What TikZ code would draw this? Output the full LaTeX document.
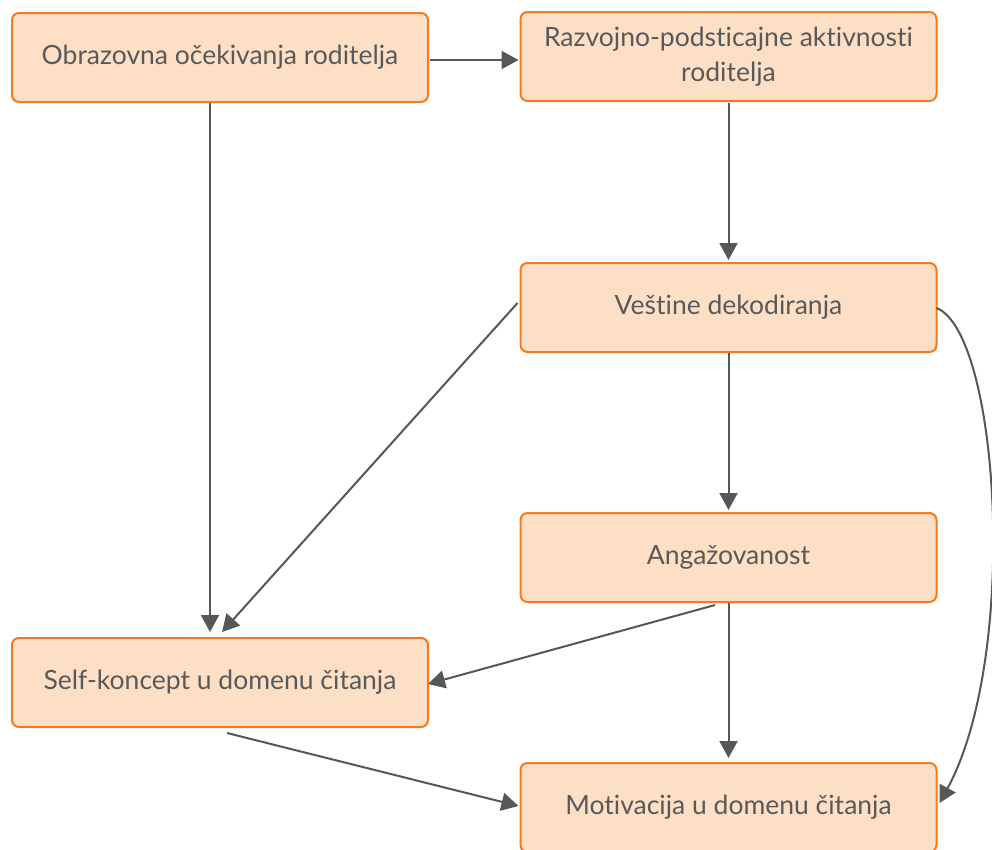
\documentclass[tikz,border=0pt]{standalone}
\usepackage{fontspec}
\setmainfont{Lato}[Ligatures={NoCommon}]
\usetikzlibrary{arrows.meta,calc}
\definecolor{boxfill}{HTML}{FDDFC6}
\definecolor{boxline}{HTML}{F47B20}
\definecolor{arrcol}{HTML}{555759}
\definecolor{txtcol}{HTML}{58595B}
\tikzset{
  box/.style={draw=boxline, fill=boxfill, line width=2pt, rounded corners=7pt,
    minimum width=416pt, minimum height=89pt, inner sep=0pt, outer sep=0pt,
    align=center, text=txtcol, font=\fontsize{26.5}{35}\selectfont},
  arr/.style={draw=arrcol, line width=2pt, -{Triangle[length=17pt,width=18pt]}}
}
\begin{document}
\begin{tikzpicture}[x=1pt,y=-1pt]
\clip (0,0) rectangle (992,849);
\fill[white] (0,0) rectangle (992,849);
\node[box] (A) at (220,57.5) {Obrazovna očekivanja roditelja};
\node[box] (B) at (728.5,56.5) {Razvojno-podsticajne aktivnosti\\roditelja};
\node[box] (C) at (728.5,307.5) {Veštine dekodiranja};
\node[box] (D) at (728.5,557.5) {Angažovanost};
\node[box] (E) at (220,682.5) {Self-koncept u domenu čitanja};
\node[box] (F) at (728.5,807.5) {Motivacija u domenu čitanja};
\draw[arr] ($(A.east)+(2,2.5)$) -- ($(B.west)+(-2,3.5)$);
\draw[arr] ($(A.south)+(-10,1)$) -- ($(E.north)+(-10,-6)$);
\draw[arr] ($(B.south)+(0,2)$) -- ($(C.north)+(0,-3)$);
\draw[arr] ($(C.west)+(-3,-4.5)$) -- ($(E.north)+(2,-6)$);
\draw[arr] ($(C.south)+(0,1)$) -- ($(D.north)+(0,-3)$);
\draw[arr] ($(D.south)+(-13.5,3)$) -- ($(E.east)+(0,1.5)$);
\draw[arr] ($(D.south)+(0,1)$) -- ($(F.north)+(0,-5)$);
\draw[arr] ($(E.south)+(7,6)$) -- ($(F.west)+(-2,-1.5)$);
\draw[arr] ($(C.east)+(0,0.5)$) .. controls +(63,25) and +(80,-147) .. ($(F.east)+(3,-4.5)$);
\end{tikzpicture}
\end{document}
